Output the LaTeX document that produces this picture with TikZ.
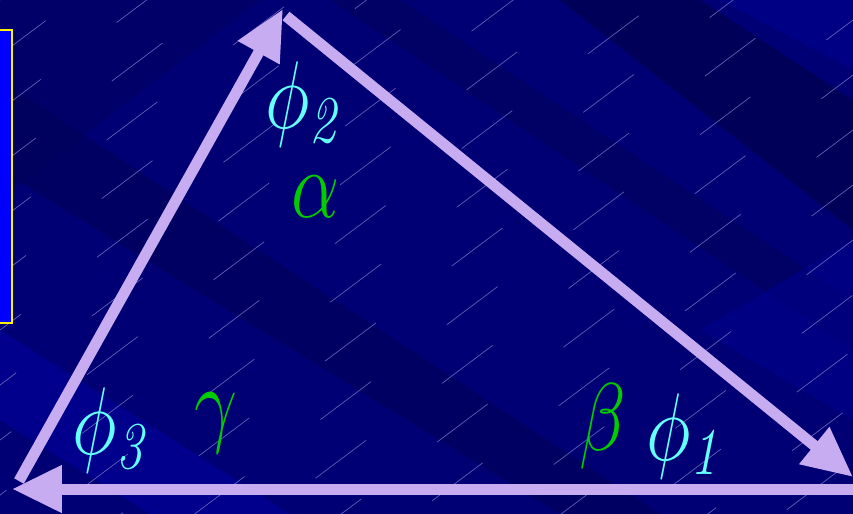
\documentclass[tikz,border=0pt]{standalone}
\usepackage{graphicx}
\usepackage{tikz}
\usetikzlibrary{arrows.meta}
\DeclareMathSizes{24.88}{24.88}{17.28}{12}
\definecolor{navybg}{RGB}{0,0,116}
\definecolor{darkband}{RGB}{0,0,88}
\definecolor{lightband}{RGB}{0,0,140}
\definecolor{streak}{RGB}{95,95,185}
\definecolor{lilac}{RGB}{200,172,242}
\definecolor{phicol}{RGB}{102,255,255}
\definecolor{angcol}{RGB}{0,204,0}
\definecolor{tabblue}{RGB}{0,0,255}
\newcommand{\biglbl}[1]{\scalebox{1.75}[2.2]{$#1$}}

\begin{document}
\begin{tikzpicture}[
    x=0.02cm, y=-0.02cm,
    side/.style={draw=lilac, line width=0.22cm, -{Triangle[length=1cm, width=0.9cm]}},
    phase/.style={text=phicol, inner sep=0pt, font=\fontsize{24.88}{30}\selectfont},
    anglbl/.style={text=angcol, inner sep=0pt, font=\fontsize{24.88}{30}\selectfont},
    stk/.style={draw=streak, line width=0.4pt}
  ]
    \useasboundingbox (0,0) rectangle (853,514);
    % background of the slide
    \begin{scope}
      \clip (0,0) rectangle (853,514);
      \fill[navybg] (0,0) rectangle (853,514);
      \fill[darkband] (560,0) -- (700,0) -- (853,100) -- (853,230) -- cycle;
      \fill[darkband, opacity=0.5] (330,0) -- (400,0) -- (853,300) -- (853,350) -- cycle;
      \fill[darkband, opacity=0.6] (0,80) -- (0,170) -- (560,514) -- (660,514) -- cycle;
      \fill[darkband, opacity=0.4] (0,0) -- (260,0) -- (0,200) -- cycle;
      \fill[lightband] (0,330) -- (0,420) -- (150,514) -- (290,514) -- cycle;
      \fill[lightband, opacity=0.7] (720,0) -- (853,0) -- (853,70) -- cycle;
      \fill[lightband, opacity=0.6] (853,240) -- (853,420) -- (700,330) -- cycle;
      \foreach \c [evaluate=\c as \ph using {mod(\c*1.7,90)}] in {0,55,...,1200}
        \draw[stk, dash pattern=on 36pt off 54pt, dash phase=\ph pt] (0,\c) -- (853,\c-640);
    \end{scope}
    % side tab
    \fill[tabblue] (-5,30) rectangle (12,323);
    \draw[yellow, line width=0.9pt] (-5,30) -- (12,30) -- (12,323) -- (-5,323);
    % corners of the triangle
    \coordinate (apex) at (283,9);
    \coordinate (apexout) at (286,16);
    \coordinate (leftfoot) at (19,481);
    \coordinate (lefttip) at (12,489);
    \coordinate (righttip) at (853,477);
    \coordinate (rightfoot) at (858,489);
    \draw[side] (leftfoot) -- (apex);
    \draw[side] (apexout) -- (righttip);
    \draw[side] (rightfoot) -- (lefttip);
    % labels
    \node[phase] (phi2) at (305,104) {\biglbl{\phi_{\mathit{2}}}};
    \node[anglbl] (alpha) at (316,197) {\biglbl{\alpha}};
    \node[phase] (phi3) at (112,430) {\biglbl{\phi_{\mathit{3}}}};
    \node[anglbl] (gamma) at (216,423) {\biglbl{\gamma}};
    \node[anglbl] (beta) at (603,426) {\biglbl{\beta}};
    \node[phase] (phi1) at (686,436) {\biglbl{\phi_{\mathit{1}}}};
\end{tikzpicture}
\end{document}
